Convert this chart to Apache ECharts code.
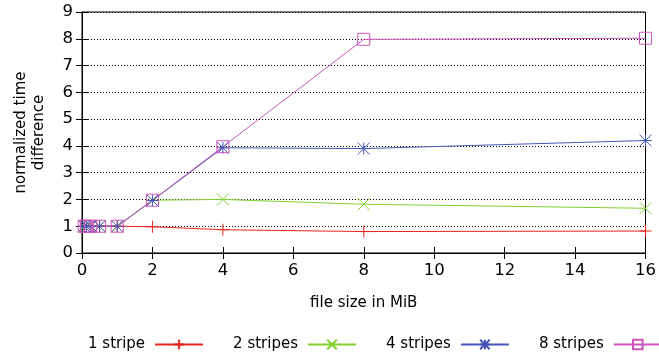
<!DOCTYPE html>
<html>
<head>
<meta charset="utf-8">
<script src="https://cdn.jsdelivr.net/npm/echarts@6/dist/echarts.min.js"></script>
<style>
  html, body { margin: 0; padding: 0; background: #fff; }
  #main { width: 659px; height: 355px; }
</style>
</head>
<body>
<div id="main"></div>
<script>
// file sizes (MiB)
const fileSizes = [0.0625, 0.125, 0.25, 0.5, 1, 2, 4, 8, 16]
const stripes1 = [1, 1, 1, 1, 1, 0.98, 0.87, 0.8, 0.82]
const stripes2 = [1, 1, 1, 1, 1, 1.97, 2.0, 1.82, 1.67]
const stripes4 = [1, 1, 1, 1, 1, 1.96, 3.93, 3.9, 4.2]
const stripes8 = [1, 1, 1, 1, 1, 1.97, 3.97, 7.98, 8.02]
const seriesNames = ['1 stripe', '2 stripes', '4 stripes', '8 stripes']

const FONT = 'DejaVu Sans'
const pair = (ys) => fileSizes.map((x, i) => [x, ys[i]])

const symPlus = 'path://M0,5L10,5M5,0L5,10'
const symCross = 'path://M0,0L10,10M10,0L0,10'
const symStar = 'path://M0,5L10,5M5,0L5,10M0,0L10,10M10,0L0,10'

function makeSeries(name, ys, color, symbol, hollow) {
  return {
    name: name,
    type: 'line',
    data: pair(ys),
    symbol: symbol,
    symbolSize: 12,
    showAllSymbol: true,
    color: color,
    lineStyle: { color: color, width: 1 },
    itemStyle: {
      color: hollow ? 'rgba(0,0,0,0)' : color,
      borderColor: color,
      borderWidth: 1
    }
  }
}

const chart = echarts.init(document.getElementById('main'))
chart.setOption({
  animation: false,
  grid: { left: 82, right: 10, top: 12, bottom: 102, show: true, borderColor: '#000', borderWidth: 1 },
  textStyle: { fontFamily: FONT },
  // gnuplot-like key: text first, sample line after; runs off the right edge like the original
  legend: {
    left: 83,
    top: 332,
    width: 720,
    align: 'right',
    itemWidth: 48,
    itemHeight: 12,
    itemGap: 29,
    textStyle: { fontFamily: FONT, fontSize: 15, color: '#000', padding: [0, 5, 0, 0] },
    data: seriesNames
  },
  xAxis: [
    {
      type: 'value', min: 0, max: 16, interval: 2,
      name: 'file size in MiB', nameLocation: 'middle', nameGap: 43,
      nameTextStyle: { fontFamily: FONT, fontSize: 15, color: '#000' },
      axisLine: { lineStyle: { color: '#000' } },
      axisTick: { inside: true, length: 6, lineStyle: { color: '#000' } },
      axisLabel: { fontFamily: FONT, fontSize: 16.5, color: '#000', margin: 9 },
      splitLine: { show: false }
    },
    {
      type: 'value', min: 0, max: 16, interval: 2, position: 'top',
      axisLine: { lineStyle: { color: '#000' } },
      axisTick: { inside: true, length: 6, lineStyle: { color: '#000' } },
      axisLabel: { show: false },
      splitLine: { show: false }
    }
  ],
  yAxis: [
    {
      type: 'value', min: 0, max: 9, interval: 1,
      name: 'normalized time\ndifference', nameLocation: 'middle', nameGap: 34,
      nameTextStyle: { fontFamily: FONT, fontSize: 15, color: '#000', lineHeight: 18 },
      axisLine: { show: true, lineStyle: { color: '#000' } },
      axisTick: { show: true, inside: true, length: 6, lineStyle: { color: '#000' } },
      axisLabel: { fontFamily: FONT, fontSize: 16.5, color: '#000', margin: 9 },
      splitLine: { show: true, lineStyle: { color: '#000', type: [1, 2], width: 1 } }
    },
    {
      type: 'value', min: 0, max: 9, interval: 1, position: 'right',
      axisLine: { show: true, lineStyle: { color: '#000' } },
      axisTick: { show: true, inside: true, length: 6, lineStyle: { color: '#000' } },
      axisLabel: { show: false },
      splitLine: { show: false }
    }
  ],
  series: [
    makeSeries(seriesNames[0], stripes1, '#e8251e', symPlus, false),
    makeSeries(seriesNames[1], stripes2, '#7fd02e', symCross, false),
    makeSeries(seriesNames[2], stripes4, '#4656b8', symStar, false),
    makeSeries(seriesNames[3], stripes8, '#cc55bb', 'rect', true)
  ]
})
</script>
</body>
</html>
